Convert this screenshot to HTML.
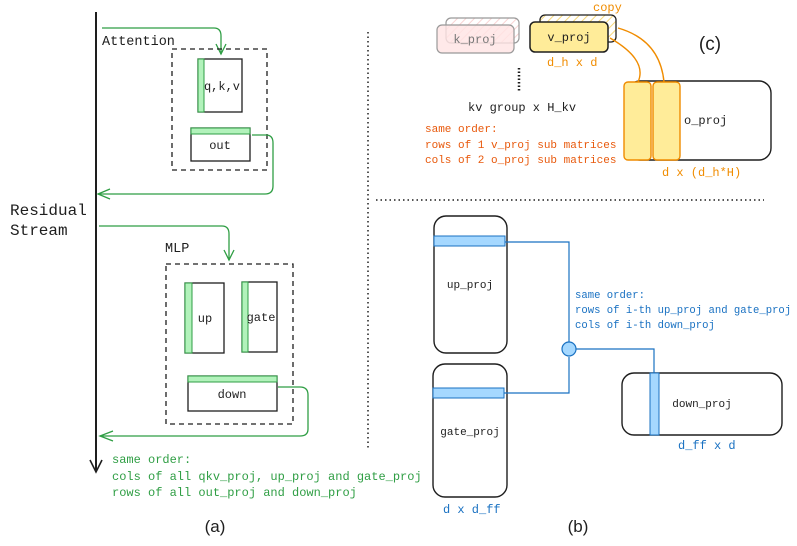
<!DOCTYPE html>
<html><head><meta charset="utf-8"><style>
html,body{margin:0;padding:0;background:#fff;width:797px;height:546px;overflow:hidden}
text{font-family:"Liberation Mono","DejaVu Sans Mono",monospace}
</style></head><body>
<svg width="797" height="546" viewBox="0 0 797 546" xmlns="http://www.w3.org/2000/svg">
<defs>
<pattern id="hy" width="6" height="6" patternUnits="userSpaceOnUse" patternTransform="rotate(45)"><rect width="6" height="6" fill="#fff"/><line x1="0" y1="0" x2="0" y2="6" stroke="#f5d77a" stroke-width="2"/></pattern>
<pattern id="hp" width="6" height="6" patternUnits="userSpaceOnUse" patternTransform="rotate(45)"><rect width="6" height="6" fill="#fff"/><line x1="0" y1="0" x2="0" y2="6" stroke="#f8d4d4" stroke-width="2"/></pattern>
</defs>
<!-- residual -->
<line x1="96" y1="12" x2="96" y2="470" stroke="#1e1e1e" stroke-width="2"/>
<path d="M90 460 L96 472 L102 460" fill="none" stroke="#1e1e1e" stroke-width="1.6"/>
<text x="10" y="215" font-size="16" fill="#1e1e1e">Residual</text>
<text x="10" y="235" font-size="16" fill="#1e1e1e">Stream</text>
<!-- attention -->
<text x="102" y="45" font-size="13.5" fill="#1e1e1e">Attention</text>
<path d="M102 28 L214 28 Q221 28 221 36 L221 54" fill="none" stroke="#2f9e44" stroke-width="1.3"/>
<path d="M216 44 L221 54 L226 44" fill="none" stroke="#2f9e44" stroke-width="1.3"/>
<rect x="172" y="49" width="95" height="121" fill="none" stroke="#1e1e1e" stroke-width="1.3" stroke-dasharray="5,4"/>
<rect x="198" y="59" width="44" height="53" fill="#fff" stroke="#1e1e1e" stroke-width="1.3"/>
<rect x="198" y="59" width="6" height="53" fill="#b2f2bb" stroke="#2f9e44" stroke-width="1"/>
<text x="222" y="90" font-size="12" fill="#1e1e1e" text-anchor="middle">q,k,v</text>
<rect x="191" y="128" width="59" height="33" fill="#fff" stroke="#1e1e1e" stroke-width="1.3"/>
<rect x="191" y="128" width="59" height="6" fill="#b2f2bb" stroke="#2f9e44" stroke-width="1"/>
<text x="220" y="149" font-size="12" fill="#1e1e1e" text-anchor="middle">out</text>
<path d="M252 135 L266 135 Q273 135 273 143 L273 186 Q273 194 265 194 L98 194" fill="none" stroke="#2f9e44" stroke-width="1.3"/>
<path d="M110 189 L98 194 L110 199" fill="none" stroke="#2f9e44" stroke-width="1.3"/>
<!-- MLP -->
<path d="M99 226 L222 226 Q229 226 229 234 L229 260" fill="none" stroke="#2f9e44" stroke-width="1.3"/>
<path d="M224 250 L229 260 L234 250" fill="none" stroke="#2f9e44" stroke-width="1.3"/>
<text x="165" y="252" font-size="13.5" fill="#1e1e1e">MLP</text>
<rect x="166" y="264" width="127" height="160" fill="none" stroke="#1e1e1e" stroke-width="1.3" stroke-dasharray="5,4"/>
<rect x="185" y="283" width="39" height="70" fill="#fff" stroke="#1e1e1e" stroke-width="1.3"/>
<rect x="185" y="283" width="7" height="70" fill="#b2f2bb" stroke="#2f9e44" stroke-width="1"/>
<text x="205" y="322" font-size="12" fill="#1e1e1e" text-anchor="middle">up</text>
<rect x="242" y="282" width="35" height="70" fill="#fff" stroke="#1e1e1e" stroke-width="1.3"/>
<rect x="242" y="282" width="6" height="70" fill="#b2f2bb" stroke="#2f9e44" stroke-width="1"/>
<text x="261" y="321" font-size="12" fill="#1e1e1e" text-anchor="middle">gate</text>
<rect x="188" y="376" width="89" height="35" fill="#fff" stroke="#1e1e1e" stroke-width="1.3"/>
<rect x="188" y="376" width="89" height="6" fill="#b2f2bb" stroke="#2f9e44" stroke-width="1"/>
<text x="232" y="398" font-size="12" fill="#1e1e1e" text-anchor="middle">down</text>
<path d="M278 387 L300 387 Q308 387 308 395 L308 429 Q308 436 300 436 L100 436" fill="none" stroke="#2f9e44" stroke-width="1.3"/>
<path d="M113 431 L100 436 L113 441" fill="none" stroke="#2f9e44" stroke-width="1.3"/>
<text font-size="12" fill="#2f9e44"><tspan x="112" y="463">same order:</tspan><tspan x="112" y="480">cols of all qkv_proj, up_proj and gate_proj</tspan><tspan x="112" y="496">rows of all out_proj and down_proj</tspan></text>
<text x="215" y="532" font-size="17" fill="#1e1e1e" text-anchor="middle" style="font-family:'Liberation Sans',sans-serif">(a)</text>
<text x="578" y="532" font-size="17" fill="#1e1e1e" text-anchor="middle" style="font-family:'Liberation Sans',sans-serif">(b)</text>
<text x="710" y="50" font-size="19" fill="#1e1e1e" text-anchor="middle" style="font-family:'Liberation Sans',sans-serif">(c)</text>
<!-- dividers -->
<line x1="368" y1="32" x2="368" y2="448" stroke="#1e1e1e" stroke-width="1.5" stroke-dasharray="1.5,3"/>
<line x1="376" y1="200" x2="764" y2="200" stroke="#1e1e1e" stroke-width="1.5" stroke-dasharray="1.5,3"/>
<!-- (c) -->
<rect x="446" y="18" width="73" height="25" rx="5" fill="url(#hp)" stroke="#999" stroke-width="1.2"/>
<rect x="437" y="25" width="77" height="28" rx="5" fill="#ffe3e3" fill-opacity="0.8" stroke="#999" stroke-width="1.2"/>
<text x="475" y="43" font-size="12" fill="#777" text-anchor="middle">k_proj</text>
<rect x="540" y="15" width="76" height="27" rx="5" fill="url(#hy)" stroke="#1e1e1e" stroke-width="1.3"/>
<rect x="530" y="22" width="78" height="30" rx="5" fill="#ffec99" stroke="#1e1e1e" stroke-width="1.5"/>
<text x="569" y="41" font-size="12" fill="#1e1e1e" text-anchor="middle">v_proj</text>
<text x="593" y="11" font-size="12" fill="#f08c00">copy</text>
<text x="547" y="66" font-size="12" fill="#f08c00">d_h x d</text>
<line x1="519" y1="68" x2="519" y2="92" stroke="#1e1e1e" stroke-width="2.5" stroke-dasharray="1.5,2"/>
<text x="468" y="111" font-size="12" fill="#1e1e1e">kv group x H_kv</text>
<text font-size="11" fill="#e8590c"><tspan x="425" y="132">same order:</tspan><tspan x="425" y="148">rows of 1 v_proj sub matrices</tspan><tspan x="425" y="163">cols of 2 o_proj sub matrices</tspan></text>
<rect x="628" y="81" width="143" height="79" rx="12" fill="#fff" stroke="#1e1e1e" stroke-width="1.4"/>
<path d="M610 38 Q648 60 638 82" fill="none" stroke="#f08c00" stroke-width="1.4"/>
<path d="M618 28 Q660 40 664 82" fill="none" stroke="#f08c00" stroke-width="1.4"/>
<rect x="624" y="82" width="27" height="78" rx="4" fill="#ffec99" stroke="#f08c00" stroke-width="1.4"/>
<rect x="653" y="82" width="27" height="78" rx="4" fill="#ffec99" stroke="#f08c00" stroke-width="1.4"/>
<text x="684" y="124" font-size="12" fill="#1e1e1e">o_proj</text>
<text x="662" y="176" font-size="12" fill="#f08c00">d x (d_h*H)</text>
<!-- (b) -->
<rect x="434" y="216" width="73" height="137" rx="12" fill="#fff" stroke="#1e1e1e" stroke-width="1.4"/>
<rect x="434" y="236" width="71" height="10" fill="#a5d8ff" stroke="#1971c2" stroke-width="1"/>
<text x="470" y="288" font-size="11" fill="#1e1e1e" text-anchor="middle">up_proj</text>
<rect x="433" y="364" width="74" height="133" rx="12" fill="#fff" stroke="#1e1e1e" stroke-width="1.4"/>
<rect x="433" y="388" width="71" height="10" fill="#a5d8ff" stroke="#1971c2" stroke-width="1"/>
<text x="470" y="435" font-size="11" fill="#1e1e1e" text-anchor="middle">gate_proj</text>
<rect x="622" y="373" width="160" height="62" rx="12" fill="#fff" stroke="#1e1e1e" stroke-width="1.4"/>
<rect x="650" y="373" width="9" height="62" fill="#a5d8ff" stroke="#1971c2" stroke-width="1"/>
<text x="702" y="407" font-size="11" fill="#1e1e1e" text-anchor="middle">down_proj</text>
<path d="M505 242 L569 242 L569 343" fill="none" stroke="#1971c2" stroke-width="1.2"/>
<path d="M504 393 L569 393 L569 357" fill="none" stroke="#1971c2" stroke-width="1.2"/>
<path d="M576 349 L654 349 L654 373" fill="none" stroke="#1971c2" stroke-width="1.2"/>
<circle cx="569" cy="349" r="7" fill="#a5d8ff" stroke="#1971c2" stroke-width="1.2"/>
<text font-size="10.6" fill="#1971c2"><tspan x="575" y="298">same order:</tspan><tspan x="575" y="313">rows of i-th up_proj and gate_proj</tspan><tspan x="575" y="328">cols  of i-th down_proj</tspan></text>
<text x="678" y="449" font-size="12" fill="#1971c2">d_ff x d</text>
<text x="443" y="513" font-size="12" fill="#1971c2">d x d_ff</text>
</svg>
</body></html>
